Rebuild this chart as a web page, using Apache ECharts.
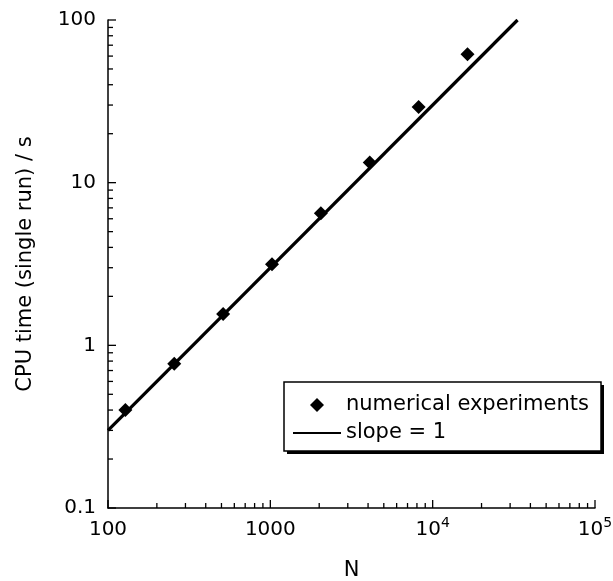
<!DOCTYPE html>
<html>
<head>
<meta charset="utf-8">
<script src="https://cdn.jsdelivr.net/npm/echarts@6/dist/echarts.min.js"></script>
<style>
  html, body { margin: 0; padding: 0; background: #fff; }
  #chart { width: 613px; height: 581px; }
</style>
</head>
<body>
<div id="chart"></div>
<script>
// ---- data ----
const problemSize = [128, 256, 512, 1024, 2048, 4096, 8192, 16384];
const cpuTime = [0.40, 0.77, 1.56, 3.15, 6.48, 13.3, 29.2, 61.5];
const slopeN = [100, 33333];
const slopeTime = [0.3, 100];
const xTickLabels = ['100', '1000', '10^4', '10^5'];
const yTickLabels = ['0.1', '1', '10', '100'];
const xMajorTicks = [100, 1000, 10000, 100000];
const yMajorTicks = [0.1, 1, 10, 100];
const xMinorTicks = [200, 300, 400, 500, 600, 700, 800, 900,
                     2000, 3000, 4000, 5000, 6000, 7000, 8000, 9000,
                     20000, 30000, 40000, 50000, 60000, 70000, 80000, 90000];
const yMinorTicks = [0.2, 0.3, 0.4, 0.5, 0.6, 0.7, 0.8, 0.9,
                     2, 3, 4, 5, 6, 7, 8, 9,
                     20, 30, 40, 50, 60, 70, 80, 90];
const seriesNames = ['numerical experiments', 'slope = 1'];
const xTitle = 'N';
const yTitle = 'CPU time (single run) / s';

const FONT = 'DejaVu Sans';
const chart = echarts.init(document.getElementById('chart'), null, { renderer: 'canvas' });

function xLabel(v) {
  const i = Math.round(Math.log10(v)) - 2;
  const s = xTickLabels[i] || '';
  const parts = s.split('^');
  if (parts.length === 2) return '{b|' + parts[0] + '}{sup|' + parts[1] + '}';
  return '{b|' + s + '}';
}
function yLabel(v) {
  const i = Math.round(Math.log10(v)) + 1;
  return yTickLabels[i] || '';
}

function tickSeries(name, values, atMin, isX, len) {
  return {
    name: name,
    type: 'custom',
    clip: false,
    silent: true,
    z: 3,
    data: values.map(v => isX ? [v, atMin] : [atMin, v]),
    renderItem: function (params, api) {
      const p = api.coord([api.value(0), api.value(1)]);
      const shape = isX
        ? { x1: p[0], y1: p[1], x2: p[0], y2: p[1] - len }
        : { x1: p[0], y1: p[1], x2: p[0] + len, y2: p[1] };
      return { type: 'line', shape: shape, style: { stroke: '#000', lineWidth: 1.3 } };
    }
  };
}

const axisCommon = {
  type: 'log',
  logBase: 10,
  splitNumber: 3,
  nameLocation: 'middle',
  nameTextStyle: { fontFamily: FONT, fontSize: 21, color: '#000' },
  axisLine: { show: true, lineStyle: { color: '#000', width: 1.5 } },
  axisTick: { show: false },
  minorTick: { show: false },
  splitLine: { show: false }
};

const option = {
  animation: false,
  backgroundColor: '#fff',
  grid: { left: 108, right: 18, top: 20, bottom: 73, containLabel: false, outerBoundsMode: 'none' },
  graphic: [
    { type: 'rect', z: 90, silent: true,
      shape: { x: 287, y: 385, width: 317, height: 69 },
      style: { fill: '#000' } },
    { type: 'rect', z: 91, silent: true,
      shape: { x: 284, y: 382, width: 317, height: 69 },
      style: { fill: '#fff', stroke: '#000', lineWidth: 1.5 } }
  ],
  legend: {
    orient: 'vertical',
    left: 284,
    top: 382,
    z: 100,
    data: [
      { name: seriesNames[0], icon: 'path://M0,-1L1,0L0,1L-1,0Z' },
      { name: seriesNames[1], icon: 'path://M0,0H48V2.2H0Z' }
    ],
    symbolKeepAspect: true,
    itemWidth: 48,
    itemHeight: 14,
    itemGap: 6,
    padding: [12, 9, 7, 9],
    textStyle: { fontFamily: FONT, fontSize: 21, color: '#000', lineHeight: 22 }
  },
  xAxis: Object.assign({}, axisCommon, {
    min: 100,
    max: 100000,
    name: xTitle,
    nameGap: 52,
    axisLabel: {
      show: true,
      margin: 8,
      color: '#000',
      fontFamily: FONT,
      fontSize: 20,
      formatter: xLabel,
      rich: {
        b: { fontFamily: FONT, fontSize: 20, lineHeight: 24, verticalAlign: 'bottom', color: '#000' },
        sup: { fontFamily: FONT, fontSize: 14, lineHeight: 14, verticalAlign: 'top', color: '#000' }
      }
    }
  }),
  yAxis: Object.assign({}, axisCommon, {
    min: 0.1,
    max: 100,
    name: yTitle,
    nameRotate: 90,
    nameGap: 72,
    axisLabel: {
      show: true,
      margin: 12,
      color: '#000',
      fontFamily: FONT,
      fontSize: 20,
      formatter: yLabel
    }
  }),
  series: [
    {
      name: seriesNames[0],
      type: 'scatter',
      symbol: 'diamond',
      symbolSize: 14,
      itemStyle: { color: '#000', opacity: 1 },
      z: 5,
      data: problemSize.map((n, i) => [n, cpuTime[i]])
    },
    {
      name: seriesNames[1],
      type: 'line',
      symbol: 'none',
      showSymbol: false,
      lineStyle: { color: '#000', width: 3.2 },
      itemStyle: { color: '#000' },
      z: 4,
      data: slopeN.map((n, i) => [n, slopeTime[i]])
    },
    tickSeries('xMajor', xMajorTicks, 0.1, true, 8),
    tickSeries('yMajor', yMajorTicks, 100, false, 8),
    tickSeries('xMinor', xMinorTicks, 0.1, true, 5),
    tickSeries('yMinor', yMinorTicks, 100, false, 5)
  ]
};
chart.setOption(option);
</script>
</body>
</html>
